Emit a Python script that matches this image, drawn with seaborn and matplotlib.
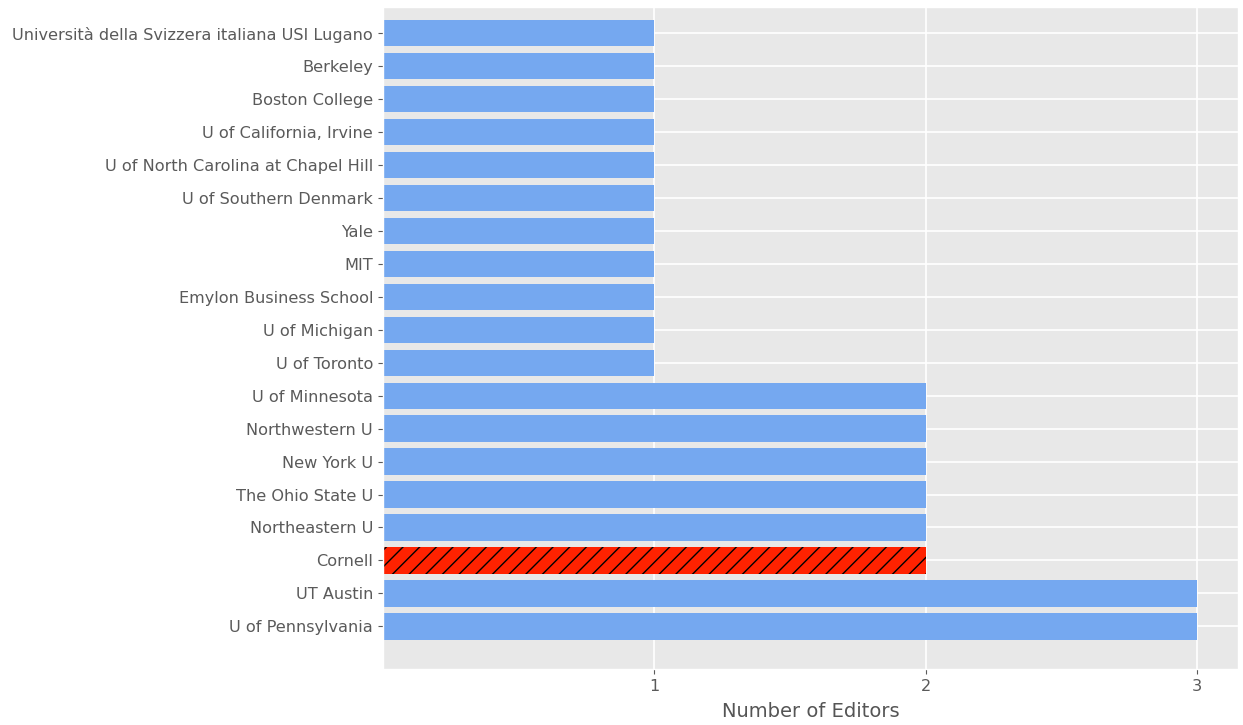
import matplotlib
matplotlib.use("Agg")
import matplotlib.pyplot as plt
import seaborn as sns
import pandas as pd

# Data (top to bottom as shown)
schools = [
    "Università della Svizzera italiana USI Lugano",
    "Berkeley",
    "Boston College",
    "U of California, Irvine",
    "U of North Carolina at Chapel Hill",
    "U of Southern Denmark",
    "Yale",
    "MIT",
    "Emylon Business School",
    "U of Michigan",
    "U of Toronto",
    "U of Minnesota",
    "Northwestern U",
    "New York U",
    "The Ohio State U",
    "Northeastern U",
    "Cornell",
    "UT Austin",
    "U of Pennsylvania",
]
editors = [1, 1, 1, 1, 1, 1, 1, 1, 1, 1, 1, 2, 2, 2, 2, 2, 2, 3, 3]
highlight = "Cornell"

df = pd.DataFrame({"School": schools, "Editors": editors})

plt.style.use("ggplot")
plt.rcParams["font.family"] = "DejaVu Sans"

fig = plt.figure(figsize=(12.43, 7.25), dpi=100)
ax = fig.add_axes([0.308, 0.077, 0.688, 0.913])
ax.set_facecolor("#E8E8E8")

palette = {s: ("#FF2200" if s == highlight else "#75A8F0") for s in schools}
sns.barplot(data=df, y="School", x="Editors", hue="School", palette=palette,
            order=schools, orient="h", width=0.8, saturation=1,
            legend=False, ax=ax)

for patch, s in zip(ax.patches, schools):
    if s == highlight:
        patch.set_hatch("//")
        patch.set_edgecolor("black")
        patch.set_linewidth(0)

ax.set_xlim(0, 3.15)
ax.set_ylim(len(schools) - 1 + 1.3, -0.79)
ax.set_xticks([1, 2, 3])
ax.set_ylabel("")
ax.set_xlabel("Number of Editors", fontsize=14, color="#555555", labelpad=6)
ax.tick_params(axis="both", labelsize=11.6, colors="#5a5a5a")
ax.grid(True, color="white", linewidth=1.2)
ax.set_axisbelow(True)

fig.savefig("out.png", dpi=100)
